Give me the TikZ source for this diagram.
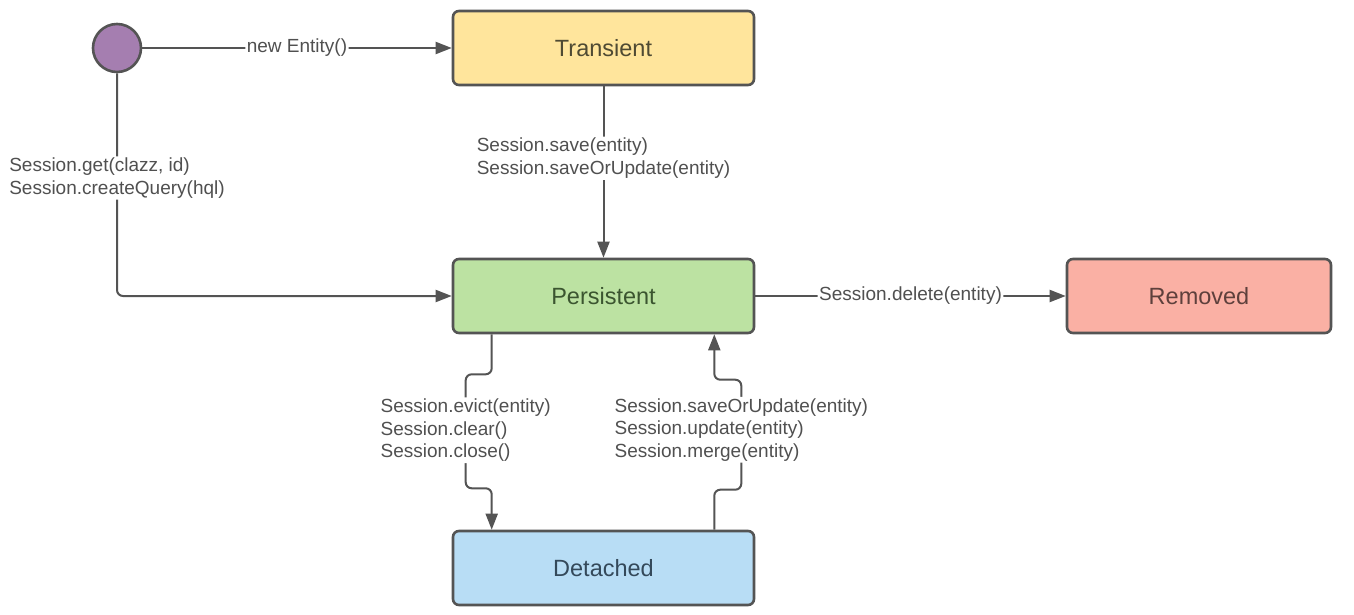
\documentclass[tikz,border=0pt]{standalone}
\usepackage{fontspec}
\setmainfont{Liberation Sans}
\usetikzlibrary{arrows.meta,calc}

\definecolor{edgegray}{HTML}{545454}
\definecolor{labelgray}{HTML}{505050}
\definecolor{startfill}{HTML}{A57EB0}
\definecolor{transfill}{HTML}{FFE59C}
\definecolor{transtext}{HTML}{4F4A33}
\definecolor{persfill}{HTML}{BCE2A2}
\definecolor{perstext}{HTML}{3B5530}
\definecolor{remfill}{HTML}{FAB0A4}
\definecolor{remtext}{HTML}{5E403C}
\definecolor{detfill}{HTML}{B8DDF5}
\definecolor{dettext}{HTML}{34495A}

\tikzset{
  statebox/.style={draw=edgegray, line width=2.6pt, rounded corners=6pt,
    minimum width=301pt, minimum height=74pt, inner sep=0pt,
    font=\fontsize{23.5}{28}\selectfont},
  startdot/.style={circle, draw=edgegray, line width=2.6pt, fill=startfill,
    minimum size=48pt, inner sep=0pt},
  flow/.style={draw=edgegray, line width=2pt, rounded corners=6pt,
    -{Triangle[length=16pt,width=12pt]}},
  lbl/.style={fill=white, text=labelgray, align=left, inner sep=1.5pt,
    font=\fontsize{19}{22.5}\selectfont}
}

\begin{document}
\begin{tikzpicture}[x=1pt,y=-1pt]
\useasboundingbox[fill=white] (0,0) rectangle (1354,615);

% states
\node[startdot] (S) at (117,48) {};
\node[statebox, fill=transfill, text=transtext] (T) at (603.5,48) {Transient};
\node[statebox, fill=persfill, text=perstext] (P) at (603.5,296) {Persistent};
\node[statebox, fill=remfill, text=remtext, minimum width=264pt] (R) at (1199,296) {Removed};
\node[statebox, fill=detfill, text=dettext] (D) at (603.5,568) {Detached};

% transitions
\draw[flow] (S) -- node[lbl] {new Entity()} (T);

\draw[flow] (T) -- node[lbl, pos=0.42]
  {Session.save(entity)\\Session.saveOrUpdate(entity)} (P);

\draw[flow] (S.south) -- node[lbl, pos=0.47]
  {Session.get(clazz, id)\\Session.createQuery(hql)} (S.south |- P.west) -- (P.west);

\draw[flow] (P) -- node[lbl] {Session.delete(entity)} (R);

\draw[flow] ($(P.south west)+(40,0)$) -- ++(0,40) -- ++(-26,0)
  -- node[lbl, pos=0.49]
  {Session.evict(entity)\\Session.clear()\\Session.close()} ++(0,114)
  -- ++(26,0) -- ($(D.north west)+(40,0)$);

\draw[flow] ($(D.north east)+(-41,0)$) -- ++(0,-40) -- ++(27,0)
  -- node[lbl, pos=0.545]
  {Session.saveOrUpdate(entity)\\Session.update(entity)\\Session.merge(entity)} ++(0,-110)
  -- ++(-27,0) -- ($(P.south east)+(-41,0)$);
\end{tikzpicture}
\end{document}
